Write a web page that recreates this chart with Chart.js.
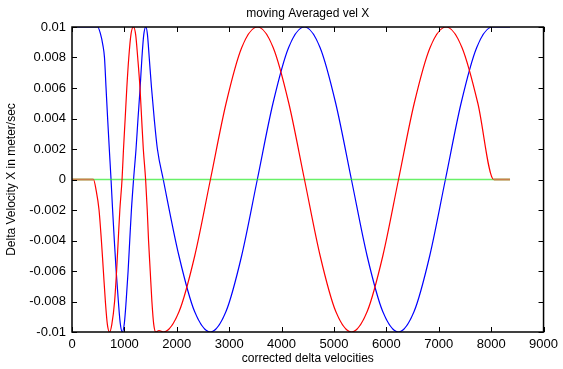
<!DOCTYPE html>
<html>
<head>
<meta charset="utf-8">
<script src="https://cdn.jsdelivr.net/npm/chart.js@4"></script>
<style>
  html, body { margin: 0; padding: 0; background: #fff; }
  canvas { display: block; }
</style>
</head>
<body>
<canvas id="velChart" width="563" height="369"></canvas>
<script>
const chartTitle = 'moving Averaged vel X';
const xLabel = 'corrected delta velocities';
const yLabel = 'Delta Velocity X in meter/sec';

// blue series
const blueX = [0, 300, 490, 540, 590, 620, 650, 680, 712, 745, 775, 808, 843, 885, 920, 960,
    1000, 1033, 1071, 1102, 1134, 1175, 1222, 1260, 1300, 1335, 1370, 1410, 1440, 1474, 1518,
    1569, 1630, 1742, 2041, 2340, 2640, 2939, 3238, 3537, 3836, 4135, 4435, 4734, 5033, 5333,
    5632, 5931, 6230, 6529, 6828, 7127, 7426, 7725, 8025, 8360];
const blueY = [0.01, 0.01, 0.01, 0.0096, 0.0088, 0.008, 0.006, 0.004, 0.002, 0, -0.002, -0.004, -0.006, -0.008, -0.0094, -0.01,
    -0.0094, -0.008, -0.006, -0.004, -0.002, 0, 0.002, 0.004, 0.006, 0.008, 0.0095, 0.01, 0.0095, 0.008, 0.006,
    0.004, 0.002, 0, -0.005, -0.00866, -0.01, -0.00866, -0.005, 0, 0.005, 0.00866, 0.01, 0.00866, 0.005, 0,
    -0.005, -0.00866, -0.01, -0.00866, -0.005, 0, 0.005, 0.00866, 0.01, 0.01];

// red series
const redX = [0, 410, 460, 516, 561, 599, 637, 675, 718, 760, 813, 851, 882, 913, 955, 983,
    1015, 1046, 1084, 1125, 1172, 1215, 1254, 1298, 1329, 1361, 1405, 1436, 1461, 1493, 1525,
    1560, 1600, 1660, 1745, 2044, 2343, 2642, 2941, 3240, 3540, 3839, 4138, 4437, 4736, 5035,
    5335, 5634, 5933, 6232, 6532, 6835, 7140, 7443, 7746, 8050, 8360];
const redY = [0, 0, -0.0007, -0.002, -0.004, -0.006, -0.008, -0.0095, -0.01, -0.0095, -0.008, -0.006, -0.004, -0.002, 0, 0.002,
    0.004, 0.006, 0.008, 0.0095, 0.01, 0.0095, 0.008, 0.006, 0.004, 0.002, 0, -0.002, -0.004, -0.006, -0.008,
    -0.0095, -0.01, -0.0099, -0.01, -0.00866, -0.005, 0, 0.005, 0.00866, 0.01, 0.00866, 0.005, 0, -0.005, -0.00866,
    -0.01, -0.00866, -0.005, 0, 0.005, 0.00866, 0.01, 0.00866, 0.005, 0, 0];

// green series
const greenX = [0, 8360];
const greenY = [0, 0];

const xTicks = [0, 1000, 2000, 3000, 4000, 5000, 6000, 7000, 8000, 9000];
const yTicks = [-0.01, -0.008, -0.006, -0.004, -0.002, 0, 0.002, 0.004, 0.006, 0.008, 0.01];

const FONT = 'Liberation Sans, Arial, sans-serif';

function toPoints(xs, ys) {
    return xs.map((x, i) => ({ x, y: ys[i] }));
}

// matlab style box with inward ticks on all sides, plus the title
const boxPlugin = {
    id: 'matlabBox',
    afterDraw(chart) {
        const { ctx, chartArea: a, scales } = chart;
        ctx.save();
        ctx.strokeStyle = '#000';
        ctx.lineWidth = 1;
        ctx.beginPath();
        xTicks.forEach(v => {
            const px = Math.round(scales.x.getPixelForValue(v)) + 0.5;
            ctx.moveTo(px, a.bottom); ctx.lineTo(px, a.bottom - 5);
            ctx.moveTo(px, a.top); ctx.lineTo(px, a.top + 5);
        });
        yTicks.forEach(v => {
            const py = Math.round(scales.y.getPixelForValue(v)) + 0.5;
            ctx.moveTo(a.left, py); ctx.lineTo(a.left + 5, py);
            ctx.moveTo(a.right, py); ctx.lineTo(a.right - 5, py);
        });
        ctx.stroke();
        ctx.lineWidth = 1.5;
        ctx.strokeRect(a.left, a.top, a.right - a.left, a.bottom - a.top);

        ctx.fillStyle = '#000';
        ctx.font = '12px ' + FONT;
        ctx.textAlign = 'center';
        ctx.textBaseline = 'middle';
        ctx.fillText(chartTitle, (a.left + a.right) / 2, 14);
        ctx.restore();
    }
};

function renderChart() {
    const ctx = document.getElementById('velChart').getContext('2d');
    new Chart(ctx, {
        type: 'line',
        data: {
            datasets: [
                {
                    label: 'red',
                    data: toPoints(redX, redY),
                    borderColor: '#ff0000',
                    borderWidth: 1.2,
                    pointRadius: 0,
                    cubicInterpolationMode: 'monotone',
                    segment: {
                        borderColor: c => (c.p0.parsed.y === 0 && c.p1.parsed.y === 0) ? '#c8804a' : undefined,
                        borderWidth: c => (c.p0.parsed.y === 0 && c.p1.parsed.y === 0) ? 2 : undefined
                    }
                },
                {
                    label: 'green',
                    data: toPoints(greenX, greenY),
                    borderColor: 'rgba(40, 235, 40, 0.7)',
                    borderWidth: 1.4,
                    pointRadius: 0
                },
                {
                    label: 'blue',
                    data: toPoints(blueX, blueY),
                    borderColor: '#0000ff',
                    borderWidth: 1.2,
                    pointRadius: 0,
                    cubicInterpolationMode: 'monotone'
                }
            ]
        },
        options: {
            responsive: false,
            animation: false,
            layout: { padding: { left: 0, top: 27, right: 15, bottom: 0 } },
            plugins: {
                legend: { display: false },
                title: { display: false },
                tooltip: { enabled: false }
            },
            scales: {
                x: {
                    type: 'linear',
                    min: 0,
                    max: 9000,
                    afterBuildTicks: s => { s.ticks = xTicks.map(v => ({ value: v })); },
                    afterFit: s => { s.height = 37; },
                    grid: { display: false, drawTicks: false },
                    border: { display: false },
                    ticks: {
                        padding: 5,
                        color: '#000',
                        font: { family: FONT, size: 13 },
                        maxRotation: 0,
                        callback: v => String(v)
                    },
                    title: {
                        display: true,
                        text: xLabel,
                        color: '#000',
                        font: { family: FONT, size: 12 },
                        padding: { top: 0, bottom: 3 }
                    }
                },
                y: {
                    min: -0.01,
                    max: 0.01,
                    afterBuildTicks: s => { s.ticks = yTicks.map(v => ({ value: v })); },
                    afterFit: s => { s.width = 72; },
                    grid: { display: false, drawTicks: false },
                    border: { display: false },
                    ticks: {
                        padding: 6,
                        color: '#000',
                        font: { family: FONT, size: 13 },
                        callback: v => String(Number(v.toFixed(3)))
                    },
                    title: {
                        display: true,
                        text: yLabel,
                        color: '#000',
                        font: { family: FONT, size: 12 },
                        padding: { top: 4, bottom: 4 }
                    }
                }
            }
        },
        plugins: [boxPlugin]
    });
}

document.addEventListener('DOMContentLoaded', renderChart);
</script>
</body>
</html>
